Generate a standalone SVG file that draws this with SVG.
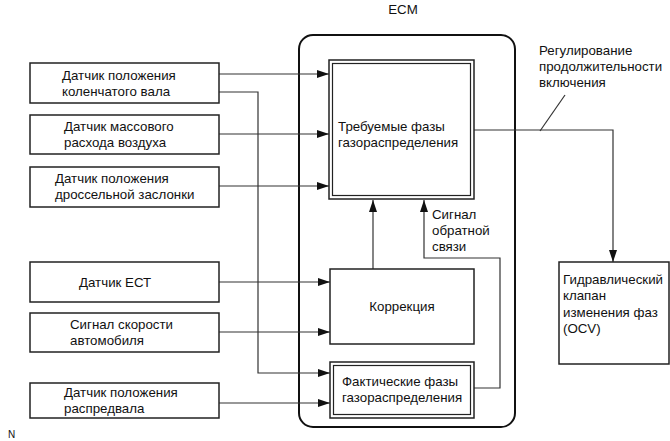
<svg xmlns="http://www.w3.org/2000/svg" width="670" height="441" viewBox="0 0 670 441">
<style>
text{font-family:"Liberation Sans",Arial,sans-serif;font-size:13.3px;fill:#111}
.box{fill:#fff;stroke:#222;stroke-width:1.5}
.thin{fill:none;stroke:#222;stroke-width:1.2}
.ln{fill:none;stroke:#333;stroke-width:1.2}
</style>
<defs>
<marker id="ah" markerWidth="12" markerHeight="8" refX="12" refY="4" orient="auto" markerUnits="userSpaceOnUse">
<path d="M0,0 L12,4 L0,8 Z" fill="#111"/>
</marker>
</defs>
<rect width="670" height="441" fill="#fff"/>
<g id="ecm">
<rect x="299" y="35" width="216" height="392" rx="14" fill="none" stroke="#111" stroke-width="2"/>
<text x="403" y="14" text-anchor="middle">ECM</text>
</g>
<g id="connectors">
<path class="ln" d="M219,74 H329" marker-end="url(#ah)"/>
<path class="ln" d="M219,92 H258 V373 H330" marker-end="url(#ah)"/>
<path class="ln" d="M219,134 H329" marker-end="url(#ah)"/>
<path class="ln" d="M219,186 H329" marker-end="url(#ah)"/>
<path class="ln" d="M219,282 H330" marker-end="url(#ah)"/>
<path class="ln" d="M219,332 H330" marker-end="url(#ah)"/>
<path class="ln" d="M219,403 H330" marker-end="url(#ah)"/>
<path class="ln" d="M373,269 V200" marker-end="url(#ah)"/>
<path class="ln" d="M474,388 H500 V258 H424 V200" marker-end="url(#ah)"/>
<path class="ln" d="M474,130 H613 V262" marker-end="url(#ah)"/>
<path class="ln" d="M540,131 L565,95"/>
<text x="539" y="55">Регулирование</text>
<text x="539" y="71">продолжительности</text>
<text x="539" y="87">включения</text>
<text x="432" y="219">Сигнал</text>
<text x="432" y="235">обратной</text>
<text x="432" y="251">связи</text>
</g>
<g id="s1"><rect class="box" x="30" y="63" width="189" height="40"/><text x="62" y="80">Датчик положения</text><text x="62" y="96">коленчатого вала</text></g>
<g id="s2"><rect class="box" x="30" y="115" width="189" height="39"/><text x="64" y="131">Датчик массового</text><text x="64" y="147">расхода воздуха</text></g>
<g id="s3"><rect class="box" x="30" y="167" width="189" height="40"/><text x="55" y="183">Датчик положения</text><text x="55" y="199">дроссельной заслонки</text></g>
<g id="s4"><rect class="box" x="30" y="262" width="189" height="40"/><text x="79" y="287">Датчик ЕСТ</text></g>
<g id="s5"><rect class="box" x="30" y="313" width="189" height="39"/><text x="70" y="329">Сигнал скорости</text><text x="70" y="345">автомобиля</text></g>
<g id="s6"><rect class="box" x="30" y="383" width="189" height="35"/><text x="64" y="397">Датчик положения</text><text x="64" y="413">распредвала</text></g>
<g id="target">
<rect class="box" x="329" y="60" width="145" height="139" stroke-width="1.2"/>
<rect class="thin" x="332.5" y="63.5" width="138" height="132"/>
<text x="338" y="131">Требуемые фазы</text><text x="338" y="147">газораспределения</text>
</g>
<g id="corr"><rect class="box" x="330" y="269" width="144" height="75"/><text x="402" y="311" text-anchor="middle">Коррекция</text></g>
<g id="actual">
<rect class="box" x="330" y="362" width="144" height="56" stroke-width="1.2"/>
<rect class="thin" x="333.5" y="365.5" width="137" height="49"/>
<text x="342" y="386">Фактические фазы</text><text x="342" y="402">газораспределения</text>
</g>
<g id="ocv"><rect class="box" x="559" y="262" width="110" height="102"/>
<text x="563" y="284">Гидравлический</text><text x="563" y="300">клапан</text><text x="563" y="317">изменения фаз</text><text x="563" y="333">(OCV)</text></g>
<text x="8" y="438" style="font-size:10px">N</text>
</svg>
